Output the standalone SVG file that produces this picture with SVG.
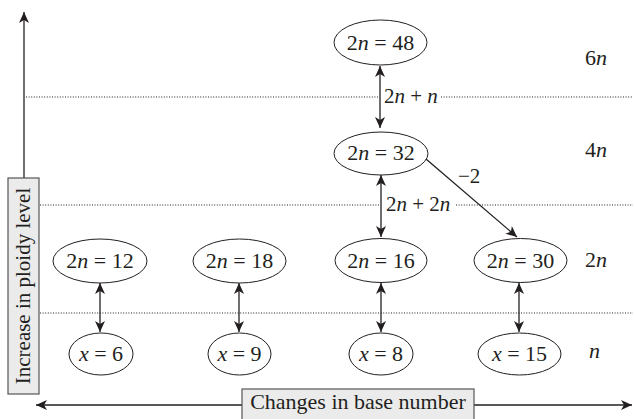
<svg xmlns="http://www.w3.org/2000/svg" width="634" height="419" viewBox="0 0 634 419" font-family="Liberation Serif, DejaVu Serif, serif">
<style>
  text { fill: #231f20; }
  .node ellipse { fill: #ffffff; stroke: #231f20; stroke-width: 1; }
  .node text { font-size: 22px; text-anchor: middle; }
  .i { font-style: italic; }
  .edge { stroke: #231f20; stroke-width: 1.3; fill: none; }
  .dot { stroke: #231f20; stroke-width: 1; stroke-dasharray: 1 1.6; fill: none; }
  .axis { stroke: #231f20; stroke-width: 1.3; fill: none; }
  .lbl { font-size: 21px; }
  .lvl { font-size: 22px; }
  .box { fill: #ebebeb; stroke: #555555; stroke-width: 1.2; }
</style>
<defs>
  <marker id="ah" markerUnits="userSpaceOnUse" markerWidth="13" markerHeight="11" refX="11" refY="5" orient="auto-start-reverse" viewBox="0 0 13 11">
    <path d="M0,0 L11,5 L0,10 L3,5 z" fill="#231f20"/>
  </marker>
</defs>

<!-- dotted level separators -->
<g id="levels">
  <line class="dot" x1="26" y1="97" x2="379" y2="97"/>
  <line class="dot" x1="441" y1="97" x2="633" y2="97"/>
  <line class="dot" x1="40" y1="205" x2="380" y2="205"/>
  <line class="dot" x1="456" y1="205" x2="633" y2="205"/>
  <line class="dot" x1="40" y1="313" x2="633" y2="313"/>
</g>

<!-- axes -->
<g id="axes">
  <line class="axis" x1="24" y1="178" x2="24" y2="12" marker-end="url(#ah)"/>
  <line class="axis" x1="242" y1="405" x2="36" y2="405" marker-end="url(#ah)"/>
  <line class="axis" x1="474" y1="405" x2="632" y2="405" marker-end="url(#ah)"/>
  <rect class="box" x="8" y="178" width="31" height="216"/>
  <text transform="translate(30,286) rotate(-90)" text-anchor="middle" font-size="21">Increase in ploidy level</text>
  <rect class="box" x="242" y="389" width="232" height="34"/>
  <text x="358" y="409" text-anchor="middle" font-size="22">Changes in base number</text>
</g>

<!-- connectors -->
<g id="connectors">
  <line class="edge" x1="380" y1="66" x2="380" y2="128" marker-start="url(#ah)" marker-end="url(#ah)"/>
  <line class="edge" x1="381" y1="175" x2="381" y2="237" marker-start="url(#ah)" marker-end="url(#ah)"/>
  <line class="edge" x1="426" y1="159" x2="517" y2="237" marker-end="url(#ah)"/>
  <line class="edge" x1="100" y1="283" x2="100" y2="332" marker-start="url(#ah)" marker-end="url(#ah)"/>
  <line class="edge" x1="239" y1="283" x2="239" y2="332" marker-start="url(#ah)" marker-end="url(#ah)"/>
  <line class="edge" x1="381" y1="283" x2="381" y2="332" marker-start="url(#ah)" marker-end="url(#ah)"/>
  <line class="edge" x1="519" y1="283" x2="519" y2="332" marker-start="url(#ah)" marker-end="url(#ah)"/>
  <text class="lbl" x="384" y="103">2<tspan class="i">n</tspan> + <tspan class="i">n</tspan></text>
  <text class="lbl" x="386" y="211">2<tspan class="i">n</tspan> + 2<tspan class="i">n</tspan></text>
  <text class="lbl" x="458" y="183">−2</text>
</g>

<!-- level labels -->
<g id="level-labels">
  <text class="lvl" x="585" y="65">6<tspan class="i">n</tspan></text>
  <text class="lvl" x="585" y="157">4<tspan class="i">n</tspan></text>
  <text class="lvl" x="585" y="267">2<tspan class="i">n</tspan></text>
  <text class="lvl i" x="589" y="358">n</text>
</g>

<!-- nodes -->
<g id="n48" class="node">
  <ellipse cx="380.5" cy="42.5" rx="46.5" ry="22.5"/>
  <text x="380.5" y="50">2<tspan class="i">n</tspan> = 48</text>
</g>
<g id="n32" class="node">
  <ellipse cx="381" cy="153.5" rx="47" ry="21.5"/>
  <text x="381" y="160">2<tspan class="i">n</tspan> = 32</text>
</g>
<g id="n12" class="node">
  <ellipse cx="100" cy="261" rx="47" ry="22"/>
  <text x="100" y="268">2<tspan class="i">n</tspan> = 12</text>
</g>
<g id="n18" class="node">
  <ellipse cx="239.5" cy="261" rx="46.5" ry="22"/>
  <text x="239.5" y="268">2<tspan class="i">n</tspan> = 18</text>
</g>
<g id="n16" class="node">
  <ellipse cx="381" cy="260.5" rx="46" ry="22"/>
  <text x="381" y="267.5">2<tspan class="i">n</tspan> = 16</text>
</g>
<g id="n30" class="node">
  <ellipse cx="520.5" cy="260.5" rx="46.5" ry="22"/>
  <text x="520.5" y="267.5">2<tspan class="i">n</tspan> = 30</text>
</g>
<g id="x6" class="node">
  <ellipse cx="101" cy="354" rx="32" ry="21"/>
  <text x="101" y="361"><tspan class="i">x</tspan> = 6</text>
</g>
<g id="x9" class="node">
  <ellipse cx="239.5" cy="354" rx="31.5" ry="21"/>
  <text x="239.5" y="361"><tspan class="i">x</tspan> = 9</text>
</g>
<g id="x8" class="node">
  <ellipse cx="381" cy="354" rx="32" ry="21"/>
  <text x="381" y="361"><tspan class="i">x</tspan> = 8</text>
</g>
<g id="x15" class="node">
  <ellipse cx="519.5" cy="354" rx="41.5" ry="21"/>
  <text x="519.5" y="361"><tspan class="i">x</tspan> = 15</text>
</g>
</svg>
